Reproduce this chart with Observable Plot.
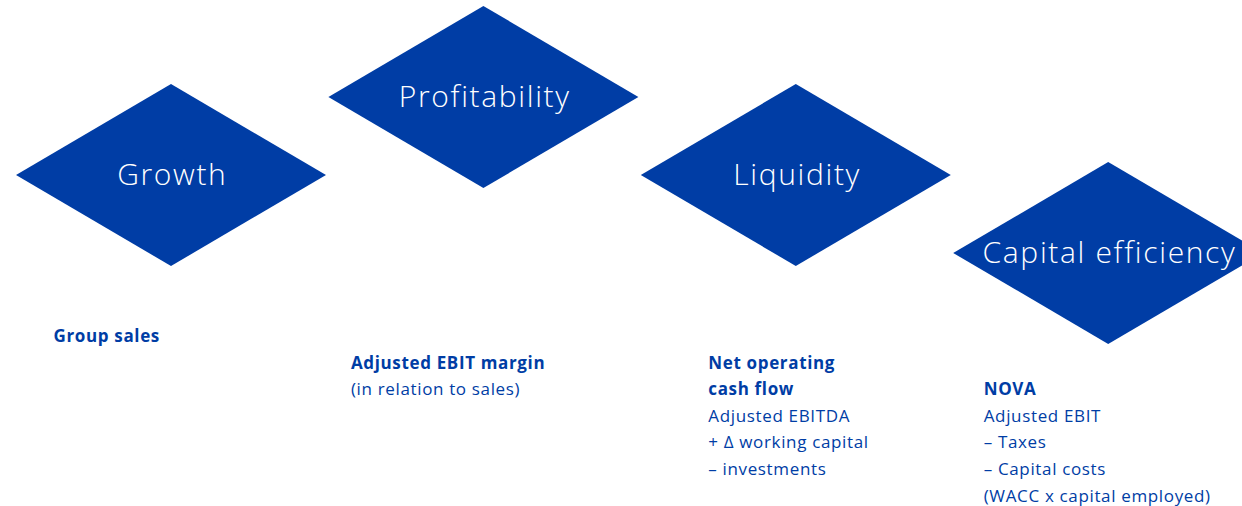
<!DOCTYPE html>
<html>
<head>
<meta charset="utf-8">
<script src="https://cdn.jsdelivr.net/npm/d3@7"></script>
<script src="https://cdn.jsdelivr.net/npm/@observablehq/plot@0.6"></script>
<style>
  html, body { margin: 0; padding: 0; background: #fff; }
  svg { display: block; }
</style>
</head>
<body>
<div id="chart"></div>
<script>
// ---- content ----
const pillars = ["Growth", "Profitability", "Liquidity", "Capital efficiency"];
const pillarLevels = [0, 1, 0, -1];          // vertical stagger step of each diamond
const textStartRows = [0, 1, 1, 2];          // first text row of each column
const headings = [
  ["Group sales"],
  ["Adjusted EBIT margin"],
  ["Net operating", "cash flow"],
  ["NOVA"]
];
const details = [
  [],
  ["(in relation to sales)"],
  ["Adjusted EBITDA", "+ Δ working capital", "– investments"],
  ["Adjusted EBIT", "– Taxes", "– Capital costs", "(WACC x capital employed)"]
];
const textIndent = [-118, -133, -88, -125];   // text block offset from diamond centre

// ---- layout ----
const W = 1242, H = 506;
const col0 = 171, colStep = 312.4;
const level0 = 175, levelStep = 78;
const halfW = 155, halfH = 91;
const row0 = 336, rowStep = 26.6;
const blue = "#003da5";
const font = "Open Sans";

const cx = i => col0 + colStep * i;
const cy = i => level0 - levelStep * pillarLevels[i];

const diamondPts = pillars.flatMap((p, i) => [
  {p, x: cx(i) - halfW, y1: cy(i), y2: cy(i)},
  {p, x: cx(i),         y1: cy(i) - halfH, y2: cy(i) + halfH},
  {p, x: cx(i) + halfW, y1: cy(i), y2: cy(i)}
]);
const labels = pillars.map((p, i) => ({p, x: cx(i), y: cy(i)}));

const lines = [];
pillars.forEach((p, i) => {
  let r = textStartRows[i];
  headings[i].forEach(t => lines.push({t, bold: true, x: cx(i) + textIndent[i], y: row0 + rowStep * r++}));
  details[i].forEach(t => lines.push({t, bold: false, x: cx(i) + textIndent[i], y: row0 + rowStep * r++}));
});

const chart = Plot.plot({
  width: W, height: H,
  margin: 0,
  x: {domain: [0, W], range: [0, W], axis: null},
  y: {domain: [0, H], range: [0, H], axis: null},
  style: {background: "#fff"},
  marks: [
    Plot.areaY(diamondPts, {x: "x", y1: "y1", y2: "y2", z: "p", fill: blue, curve: "linear"}),
    Plot.text(labels, {x: "x", y: "y", text: "p", fill: "#fff", fontSize: 30, fontWeight: 300,
      fontFamily: font, textAnchor: "middle", dx: 0.8}),
    Plot.text(lines.filter(d => d.bold), {x: "x", y: "y", text: "t", fill: blue, fontSize: 17,
      fontWeight: 700, fontFamily: font, textAnchor: "start"}),
    Plot.text(lines.filter(d => !d.bold), {x: "x", y: "y", text: "t", fill: blue, fontSize: 17,
      fontWeight: 400, fontFamily: font, textAnchor: "start"})
  ]
});
const textGroups = d3.select(chart).selectAll('g[aria-label="text"]');
textGroups.each(function(_, k) {
  d3.select(this).style("letter-spacing", k === 0 ? "1.65px" : "0.65px");
});
document.getElementById("chart").appendChild(chart);
</script>
</body>
</html>
